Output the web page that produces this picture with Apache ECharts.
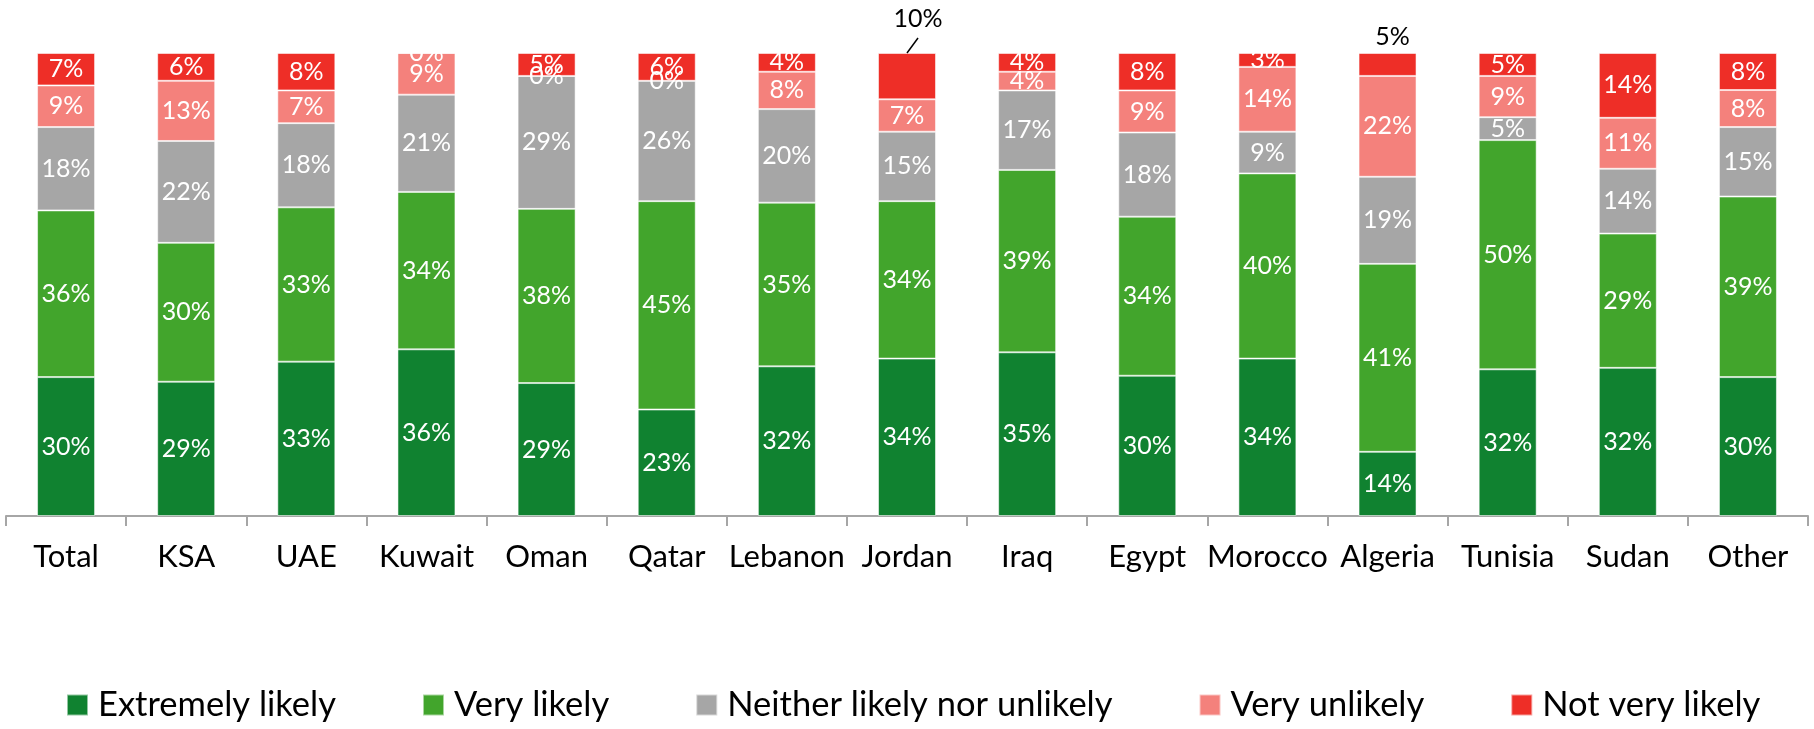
<!DOCTYPE html>
<html>
<head>
<meta charset="utf-8">
<script src="https://cdn.jsdelivr.net/npm/echarts@6/dist/echarts.min.js"></script>
<style>
  html, body { margin: 0; padding: 0; background: #fff; }
  #chart { width: 1814px; height: 729px; }
</style>
</head>
<body>
<div id="chart"></div>
<script>
// Survey responses by country (percent of respondents)
const categories = ['Total', 'KSA', 'UAE', 'Kuwait', 'Oman', 'Qatar', 'Lebanon', 'Jordan', 'Iraq', 'Egypt', 'Morocco', 'Algeria', 'Tunisia', 'Sudan', 'Other'];
const extremelyLikely = [30, 29, 33, 36, 29, 23, 32, 34, 35, 30, 34, 14, 32, 32, 30];
const veryLikely      = [36, 30, 33, 34, 38, 45, 35, 34, 39, 34, 40, 41, 50, 29, 39];
const neitherLikely   = [18, 22, 18, 21, 29, 26, 20, 15, 17, 18,  9, 19,  5, 14, 15];
const veryUnlikely    = [ 9, 13,  7,  9,  0,  0,  8,  7,  4,  9, 14, 22,  9, 11,  8];
const notVeryLikely   = [ 7,  6,  8,  0,  5,  6,  4, 10,  4,  8,  3,  5,  5, 14,  8];

const seriesDefs = [
  { name: 'Extremely likely', values: extremelyLikely, color: '#108230' },
  { name: 'Very likely', values: veryLikely, color: '#42a52c' },
  { name: 'Neither likely nor unlikely', values: neitherLikely, color: '#a6a6a6' },
  { name: 'Very unlikely', values: veryUnlikely, color: '#f4817c' },
  { name: 'Not very likely', values: notVeryLikely, color: '#ee2e27' }
];

// Labels of the top segment that sit above the column
const labelAbove = { 'Jordan': 'leader', 'Algeria': 'top' };
const LEADER_DX = 11, LEADER_DY = -18;

const FONT = 'Lato';

// Each column is shown as a 100% stack: shares are scaled by the column total
const totals = categories.map((_, i) => seriesDefs.reduce((s, d) => s + d.values[i], 0));
const lastSeries = seriesDefs.length - 1;

const series = seriesDefs.map((def, si) => ({
  name: def.name,
  type: 'bar',
  stack: 'share',
  barWidth: 58,
  itemStyle: { color: def.color, borderColor: 'rgba(255,255,255,0.55)', borderWidth: 1 },
  label: {
    show: true,
    position: 'inside',
    color: '#fff',
    fontFamily: FONT,
    fontSize: 25,
    formatter: p => def.values[p.dataIndex] + '%'
  },
  data: def.values.map((v, i) => {
    const item = { value: v / totals[i] * 100 };
    const mode = si === lastSeries ? labelAbove[categories[i]] : null;
    if (mode === 'top') {
      item.label = { position: 'top', color: '#000', distance: 4, offset: [5, 0] };
    } else if (mode === 'leader') {
      item.label = { position: 'top', color: '#000', distance: 4, offset: [LEADER_DX, LEADER_DY] };
    }
    return item;
  })
}));

const chart = echarts.init(document.getElementById('chart'), null, { renderer: 'canvas' });
chart.setOption({
  animation: false,
  textStyle: { fontFamily: FONT },
  grid: { left: 6, right: 6, top: 53, bottom: 213, containLabel: false },
  xAxis: {
    type: 'category',
    data: categories,
    axisLine: { lineStyle: { color: '#a6a6a6', width: 2 } },
    axisTick: { show: true, length: 10, lineStyle: { color: '#a6a6a6', width: 2 } },
    axisLabel: { interval: 0, color: '#000', fontFamily: FONT, fontSize: 31, margin: 25 }
  },
  yAxis: {
    type: 'value',
    min: 0,
    max: 100,
    show: false,
    splitLine: { show: false }
  },
  legend: {
    left: 66,
    top: 684,
    padding: 0,
    itemWidth: 21,
    itemHeight: 21,
    itemGap: 86,
    icon: 'rect',
    textStyle: { color: '#000', fontFamily: FONT, fontSize: 34.5, padding: [0, 0, 0, 5], lineHeight: 42 },
    data: seriesDefs.map(d => d.name)
  },
  series: series
});

// Short slanted leader from the top of each lifted column to its label
const leaders = Object.keys(labelAbove)
  .filter(name => labelAbove[name] === 'leader')
  .map(name => {
    const top = chart.convertToPixel({ xAxisIndex: 0, yAxisIndex: 0 }, [name, 100]);
    return {
      type: 'line',
      silent: true,
      z: 10,
      shape: { x1: top[0], y1: top[1], x2: top[0] + LEADER_DX, y2: top[1] + LEADER_DY + 3 },
      style: { stroke: '#000', lineWidth: 1.5 }
    };
  });
chart.setOption({ graphic: leaders });
</script>
</body>
</html>
